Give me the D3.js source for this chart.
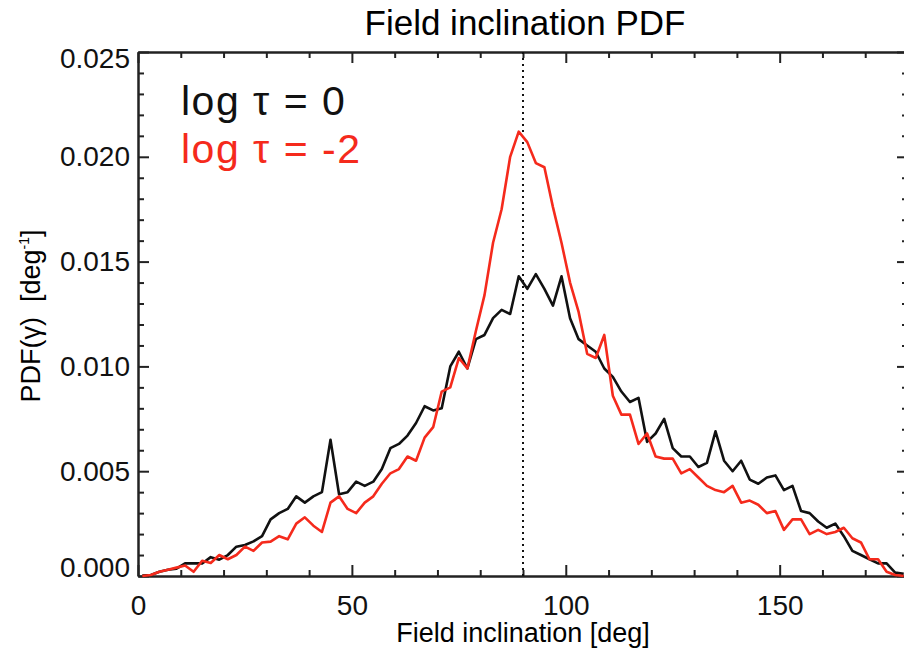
<!DOCTYPE html>
<html>
<head>
<meta charset="utf-8">
<script src="https://cdn.jsdelivr.net/npm/d3@7"></script>
<style>
  body { margin: 0; background: #fff; }
  svg text { font-family: "Liberation Sans", Helvetica, Arial, sans-serif; }
  .axis path, .axis line { stroke: #222; stroke-width: 2; }
  .axis text { font-size: 28px; fill: #111; }
</style>
</head>
<body>
<div id="chart"></div>
<script>
// bin centres (deg) of the inclination histogram
var binCenters = [1, 3, 5, 7, 9, 11, 13, 15, 17, 19, 21, 23, 25, 27, 29, 31, 33, 35, 37, 39,
  41, 43, 45, 47, 49, 51, 53, 55, 57, 59, 61, 63, 65, 67, 69, 71, 73, 75, 77, 79,
  81, 83, 85, 87, 89, 91, 93, 95, 97, 99, 101, 103, 105, 107, 109, 111, 113, 115, 117, 119,
  121, 123, 125, 127, 129, 131, 133, 135, 137, 139, 141, 143, 145, 147, 149, 151, 153, 155, 157, 159,
  161, 163, 165, 167, 169, 171, 173, 175, 177, 179];

// log tau = 0 (black)
var pdfTau0 = [0.00002, 0.00005, 0.0002, 0.0003, 0.00035, 0.0006, 0.0006, 0.0006, 0.0009, 0.00078,
  0.0010, 0.0014, 0.00148, 0.00165, 0.0019, 0.0027, 0.0030, 0.0032, 0.0038, 0.0035,
  0.0038, 0.0040, 0.0065, 0.0039, 0.0040, 0.0045, 0.0043, 0.0045, 0.0051, 0.0061,
  0.0063, 0.0067, 0.0073, 0.0081, 0.0079, 0.0080, 0.0100, 0.0107, 0.0099, 0.0113,
  0.0115, 0.0123, 0.0127, 0.0125, 0.0143, 0.0137, 0.0144, 0.0137, 0.0129, 0.0143,
  0.0123, 0.0113, 0.0110, 0.0107, 0.0099, 0.0095, 0.0088, 0.0083, 0.0085, 0.0064,
  0.0068, 0.0075, 0.0061, 0.0057, 0.0057, 0.0052, 0.0054, 0.0069, 0.0055, 0.0050,
  0.0055, 0.0046, 0.0044, 0.0047, 0.0048, 0.0041, 0.0043, 0.0031, 0.0030, 0.0026,
  0.0023, 0.0025, 0.0019, 0.0012, 0.0010, 0.0008, 0.0006, 0.0006, 0.00016, 0.0001];

// log tau = -2 (red)
var pdfTauM2 = [0, 0.00005, 0.0002, 0.0003, 0.0004, 0.0005, 0.0002, 0.00073, 0.00062, 0.0010,
  0.0008, 0.0010, 0.0014, 0.0012, 0.0016, 0.00164, 0.0019, 0.00175, 0.0025, 0.0028,
  0.0024, 0.0021, 0.0035, 0.0038, 0.0032, 0.0030, 0.0035, 0.0038, 0.0044, 0.0049,
  0.0051, 0.0057, 0.0055, 0.0066, 0.0071, 0.0088, 0.0090, 0.0104, 0.0099, 0.0117,
  0.0134, 0.0159, 0.0175, 0.0200, 0.0212, 0.0207, 0.0197, 0.0195, 0.0176, 0.0159,
  0.0140, 0.0126, 0.0106, 0.0104, 0.0115, 0.0086, 0.0077, 0.0077, 0.0063, 0.0068,
  0.0057, 0.0056, 0.0056, 0.0049, 0.0051, 0.0047, 0.0043, 0.0041, 0.0040, 0.0043,
  0.0035, 0.0036, 0.0034, 0.0030, 0.0031, 0.0022, 0.0027, 0.0027, 0.0020, 0.0022,
  0.0020, 0.0021, 0.0023, 0.0018, 0.0016, 0.0008, 0.0008, 0.0002, 0.00005, 0];

var xMajorTicks = [0, 50, 100, 150];
var xMinorTicks = [10, 20, 30, 40, 60, 70, 80, 90, 110, 120, 130, 140, 160, 170];
var yMajorTicks = [0, 0.005, 0.010, 0.015, 0.020, 0.025];
var yTickLabels = ["0.000", "0.005", "0.010", "0.015", "0.020", "0.025"];
var yMinorTicks = [0.001, 0.002, 0.003, 0.004, 0.006, 0.007, 0.008, 0.009, 0.011, 0.012, 0.013, 0.014,
  0.016, 0.017, 0.018, 0.019, 0.021, 0.022, 0.023, 0.024];
var refLine = 90;

var width = 904, height = 648;
var plotLeft = 138, plotRight = 908, plotTop = 52, plotBottom = 576;

var svg = d3.select("#chart")
  .append("svg")
  .attr("width", width)
  .attr("height", height);

var xScale = d3.scaleLinear().domain([0, 180]).range([plotLeft, plotRight]);
var yScale = d3.scaleLinear().domain([0, 0.025]).range([plotBottom, plotTop]);

// minor ticks first, then major axes with labels
function minor(axis, pos) {
  svg.append("g").attr("class", "axis")
    .attr("transform", pos)
    .call(axis.tickSizeInner(-6).tickSizeOuter(0).tickFormat(""));
}
minor(d3.axisBottom(xScale).tickValues(xMinorTicks), "translate(0," + plotBottom + ")");
minor(d3.axisTop(xScale).tickValues(xMinorTicks), "translate(0," + plotTop + ")");
minor(d3.axisLeft(yScale).tickValues(yMinorTicks), "translate(" + plotLeft + ",0)");
minor(d3.axisRight(yScale).tickValues(yMinorTicks), "translate(" + plotRight + ",0)");

svg.append("g").attr("class", "axis")
  .attr("transform", "translate(0," + plotBottom + ")")
  .call(d3.axisBottom(xScale).tickValues(xMajorTicks).tickSizeInner(-11).tickSizeOuter(0).tickPadding(19));

svg.append("g").attr("class", "axis")
  .attr("transform", "translate(0," + plotTop + ")")
  .call(d3.axisTop(xScale).tickValues(xMajorTicks).tickSizeInner(-11).tickSizeOuter(0).tickFormat(""));

var yAxisG = svg.append("g").attr("class", "axis")
  .attr("transform", "translate(" + plotLeft + ",0)")
  .call(d3.axisLeft(yScale).tickValues(yMajorTicks).tickSizeInner(-11).tickSizeOuter(0).tickPadding(8)
    .tickFormat(function(d, i) { return yTickLabels[i]; }));
// end labels sit inside the frame like the original
yAxisG.selectAll(".tick text")
  .attr("dy", function(d, i) { return i === 0 ? "0.0em" : (i === yMajorTicks.length - 1 ? "0.55em" : "0.32em"); });

svg.append("g").attr("class", "axis")
  .attr("transform", "translate(" + plotRight + ",0)")
  .call(d3.axisRight(yScale).tickValues(yMajorTicks).tickSizeInner(-11).tickSizeOuter(0).tickFormat(""));

// dotted line at 90 deg
svg.append("line")
  .attr("x1", xScale(refLine)).attr("x2", xScale(refLine))
  .attr("y1", yScale(0)).attr("y2", yScale(0.025))
  .attr("stroke", "#111")
  .attr("stroke-width", 2)
  .attr("stroke-dasharray", "2,4");

var line = d3.line()
  .x(function(d, i) { return xScale(binCenters[i]); })
  .y(function(d) { return yScale(d); });

svg.append("path")
  .datum(pdfTau0)
  .attr("d", line)
  .attr("fill", "none")
  .attr("stroke", "#111")
  .attr("stroke-width", 2.6)
  .attr("stroke-linejoin", "round");

svg.append("path")
  .datum(pdfTauM2)
  .attr("d", line)
  .attr("fill", "none")
  .attr("stroke", "#f52a1c")
  .attr("stroke-width", 2.6)
  .attr("stroke-linejoin", "round");

// title and axis labels
svg.append("text")
  .attr("x", (plotLeft + plotRight) / 2 + 2)
  .attr("y", 35)
  .attr("text-anchor", "middle")
  .style("font-size", "35px")
  .text("Field inclination PDF");

svg.append("text")
  .attr("x", (plotLeft + plotRight) / 2)
  .attr("y", 642)
  .attr("text-anchor", "middle")
  .style("font-size", "27px")
  .text("Field inclination [deg]");

var yLabel = svg.append("text")
  .attr("transform", "translate(40,316) rotate(-90)")
  .attr("text-anchor", "middle")
  .style("font-size", "27px");
yLabel.append("tspan").text("PDF(γ)\u00a0\u00a0[deg");
yLabel.append("tspan").attr("dy", -11).style("font-size", "14px").text("-1");
yLabel.append("tspan").attr("dy", 11).text("]");

// legend
svg.append("text")
  .attr("x", 181).attr("y", 115)
  .style("font-size", "41px")
  .style("letter-spacing", "1.5px")
  .attr("fill", "#111")
  .text("log τ = 0");
svg.append("text")
  .attr("x", 181).attr("y", 163)
  .style("font-size", "41px")
  .style("letter-spacing", "1.5px")
  .attr("fill", "#f52a1c")
  .text("log τ = -2");
</script>
</body>
</html>
